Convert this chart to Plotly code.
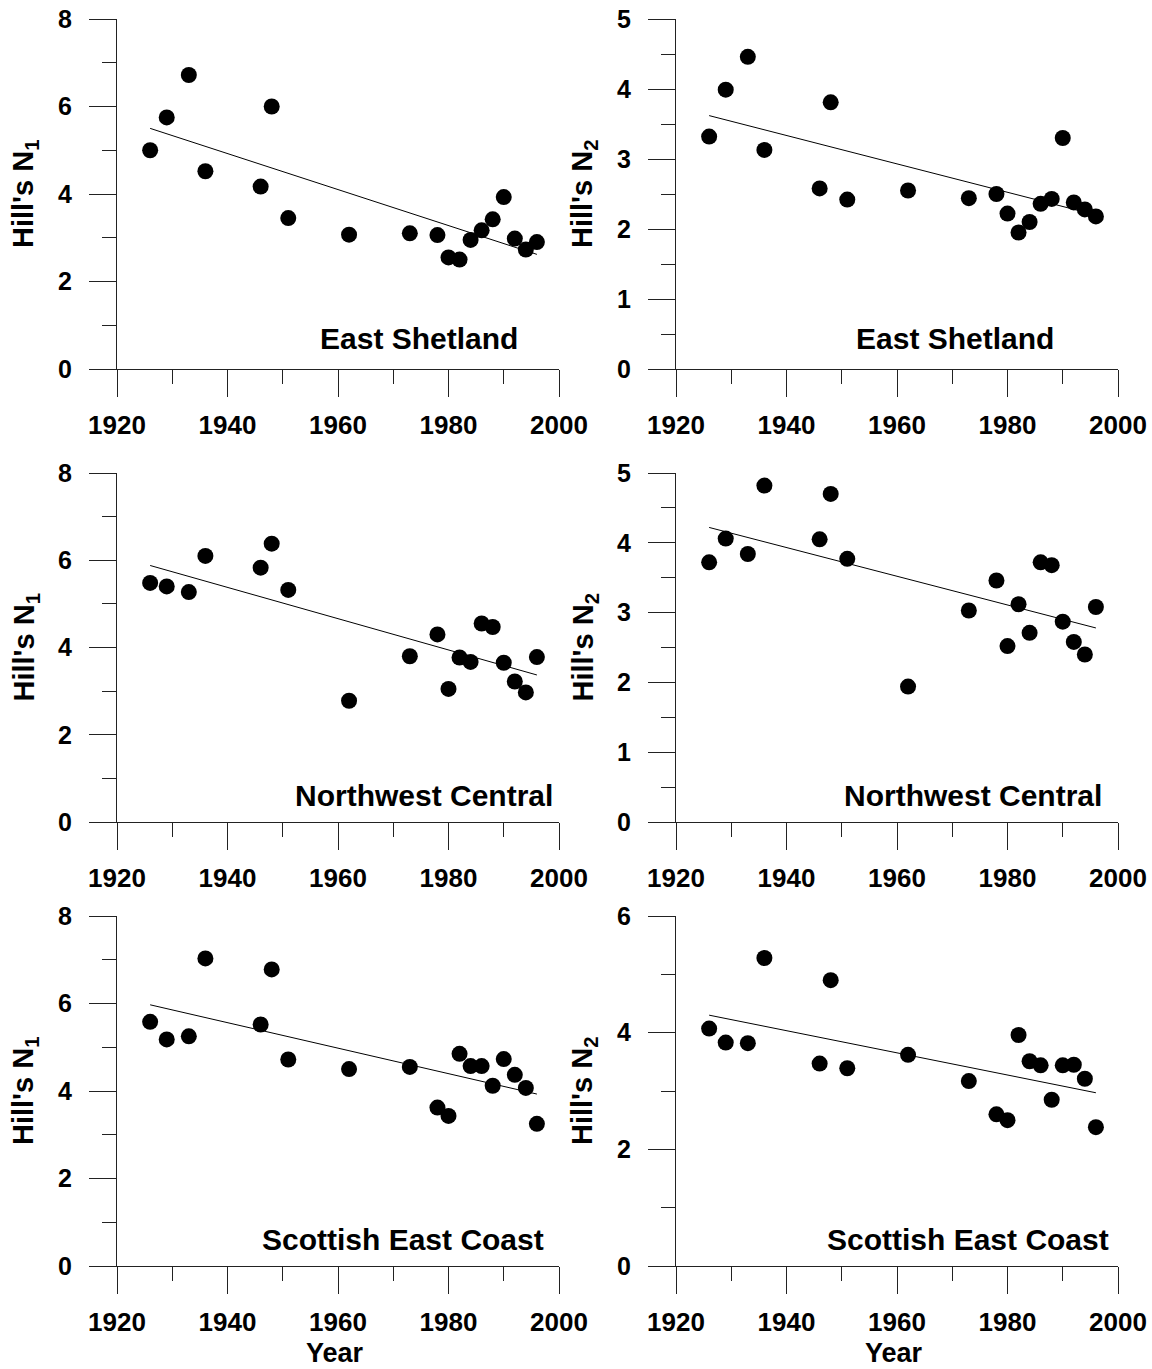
import plotly.graph_objects as go
from plotly.subplots import make_subplots

# ---------------- data ----------------
years = [1926, 1929, 1933, 1936, 1946, 1948, 1951, 1962, 1973, 1978,
         1980, 1982, 1984, 1986, 1988, 1990, 1992, 1994, 1996]

east_shetland_n1 = [5.00, 5.75, 6.72, 4.52, 4.17, 6.00, 3.45, 3.07, 3.10, 3.06,
                    2.55, 2.50, 2.95, 3.17, 3.42, 3.93, 2.98, 2.73, 2.90]
east_shetland_n2 = [3.32, 3.99, 4.46, 3.13, 2.58, 3.81, 2.42, 2.55, 2.44, 2.50,
                    2.22, 1.95, 2.10, 2.36, 2.43, 3.30, 2.38, 2.28, 2.18]
nw_central_n1 = [5.48, 5.40, 5.27, 6.10, 5.83, 6.38, 5.32, 2.78, 3.80, 4.30,
                 3.05, 3.77, 3.67, 4.55, 4.47, 3.65, 3.22, 2.97, 3.78]
nw_central_n2 = [3.72, 4.06, 3.84, 4.82, 4.05, 4.70, 3.77, 1.94, 3.03, 3.46,
                 2.52, 3.12, 2.71, 3.72, 3.68, 2.87, 2.58, 2.40, 3.08]
scot_east_n1 = [5.58, 5.18, 5.25, 7.03, 5.52, 6.78, 4.72, 4.50, 4.55, 3.62,
                3.43, 4.85, 4.57, 4.57, 4.12, 4.73, 4.37, 4.07, 3.25]
scot_east_n2 = [4.07, 3.83, 3.82, 5.28, 3.47, 4.90, 3.39, 3.62, 3.17, 2.60,
                2.50, 3.96, 3.51, 3.44, 2.85, 3.44, 3.45, 3.21, 2.38]

# regression lines (end points)
trend_years = [1926, 1996]
east_shetland_n1_trend = [5.50, 2.62]
east_shetland_n2_trend = [3.62, 2.20]
nw_central_n1_trend = [5.88, 3.37]
nw_central_n2_trend = [4.22, 2.78]
scot_east_n1_trend = [5.97, 3.93]
scot_east_n2_trend = [4.30, 2.97]

x_ticks = [1920, 1940, 1960, 1980, 2000]
region_names = ["East Shetland", "Northwest Central", "Scottish East Coast"]
y_titles = ["Hill's N<sub>1</sub>", "Hill's N<sub>2</sub>"]
x_title = "Year"

# ---------------- figure ----------------
FONT = "Arial, Liberation Sans, sans-serif"
fig = make_subplots(rows=3, cols=2)

panels = [
    # row, col, values, trend, region, y max, major, minor, label x, label y
    (1, 1, east_shetland_n1, east_shetland_n1_trend, region_names[0], 8, 2, 1, 1974.7, 0.086),
    (1, 2, east_shetland_n2, east_shetland_n2_trend, region_names[0], 5, 1, 0.5, 1970.5, 0.086),
    (2, 1, nw_central_n1, nw_central_n1_trend, region_names[1], 8, 2, 1, 1975.6, 0.077),
    (2, 2, nw_central_n2, nw_central_n2_trend, region_names[1], 5, 1, 0.5, 1973.8, 0.077),
    (3, 1, scot_east_n1, scot_east_n1_trend, region_names[2], 8, 2, 1, 1971.8, 0.077),
    (3, 2, scot_east_n2, scot_east_n2_trend, region_names[2], 6, 2, 1, 1972.8, 0.077),
]

W, H = 1152, 1369
col_px = {1: (117, 559), 2: (676, 1118)}
row_px = {1: (19, 369), 2: (473, 822), 3: (916, 1266)}
ytitle_x_px = {1: 25, 2: 584}

axis_color = "#222222"

for i, (r, c, vals, trend, region, ymax, major, minor, lx, ly) in enumerate(panels):
    fig.add_trace(go.Scatter(x=years, y=vals, mode="markers",
                             marker=dict(size=16, color="black"),
                             showlegend=False, cliponaxis=False), row=r, col=c)
    fig.add_trace(go.Scatter(x=trend_years, y=trend, mode="lines",
                             line=dict(color="black", width=1),
                             showlegend=False), row=r, col=c)

    n = i + 1
    xa = "xaxis" if n == 1 else f"xaxis{n}"
    ya = "yaxis" if n == 1 else f"yaxis{n}"
    x0, x1 = col_px[c]
    y0, y1 = row_px[r]
    fig.layout[xa].update(
        domain=[x0 / W, x1 / W],
        range=[1920, 2000], tickvals=x_ticks, ticktext=[str(v) for v in x_ticks],
        showline=True, linecolor=axis_color, linewidth=1,
        ticks="outside", ticklen=27, tickwidth=1, tickcolor=axis_color,
        minor=dict(dtick=10, tick0=1920, ticks="outside", ticklen=14,
                   tickwidth=1, tickcolor=axis_color, showgrid=False),
        tickfont=dict(family=FONT, size=26, color="black", weight="bold"),
        ticklabelstandoff=6,
        showgrid=False, zeroline=False, automargin=False,
    )
    fig.layout[ya].update(
        domain=[1 - y1 / H, 1 - y0 / H],
        range=[0, ymax], tick0=0, dtick=major,
        showline=True, linecolor=axis_color, linewidth=1,
        ticks="outside", ticklen=27, tickwidth=1, tickcolor=axis_color,
        minor=dict(dtick=minor, tick0=0, ticks="outside", ticklen=14,
                   tickwidth=1, tickcolor=axis_color, showgrid=False),
        tickfont=dict(family=FONT, size=25, color="black", weight="bold"),
        ticklabelstandoff=12,
        showgrid=False, zeroline=False, automargin=False,
    )
    xr = "x" if n == 1 else f"x{n}"
    yr = "y" if n == 1 else f"y{n}"
    # region label
    fig.add_annotation(x=lx, y=ly, xref=xr, yref=f"{yr} domain",
                       text=region, showarrow=False,
                       xanchor="center", yanchor="middle",
                       font=dict(family=FONT, size=30, color="black", weight="bold"))
    # y-axis title
    fig.add_annotation(x=ytitle_x_px[c] / W, y=1 - (y0 + y1) / 2 / H,
                       xref="paper", yref="paper", textangle=-90,
                       text=y_titles[c - 1], showarrow=False,
                       xanchor="center", yanchor="middle",
                       font=dict(family=FONT, size=29, color="black", weight="bold"))
    # x-axis title on bottom row
    if r == 3:
        fig.add_annotation(x=(x0 + x1) / 2 / W - 3 / W, y=0,
                           xref="paper", yref="paper",
                           text=x_title, showarrow=False,
                           xanchor="center", yanchor="bottom", borderpad=0,
                           font=dict(family=FONT, size=27, color="black", weight="bold"))

fig.update_layout(
    width=W, height=H,
    margin=dict(l=0, r=0, t=0, b=0),
    paper_bgcolor="white", plot_bgcolor="white",
    showlegend=False,
)

fig.write_html("out.html")
